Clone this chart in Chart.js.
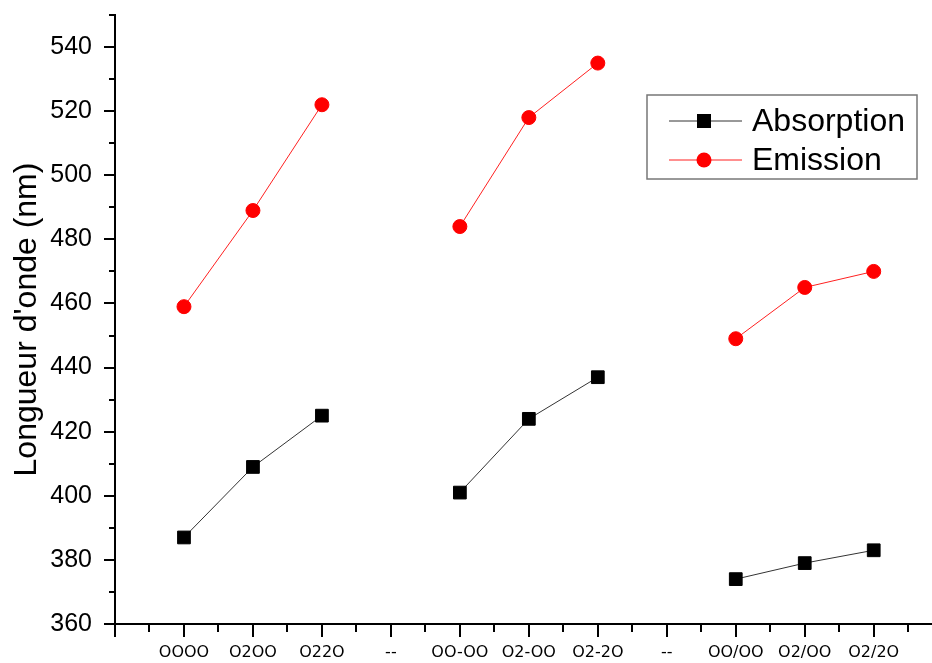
<!DOCTYPE html>
<html>
<head>
<meta charset="utf-8">
<script src="https://cdn.jsdelivr.net/npm/chart.js@4/dist/chart.umd.min.js"></script>
<style>
  html, body { margin: 0; padding: 0; background: #fff; overflow: hidden; }
  #c { display: block; }
</style>
</head>
<body>
<canvas id="c" width="932" height="663"></canvas>
<script>
// ---- data ----
const categories = ['OOOO', 'O2OO', 'O22O', '--', 'OO-OO', 'O2-OO', 'O2-2O', '--', 'OO/OO', 'O2/OO', 'O2/2O'];
const absorption = [387, 409, 425, null, 401, 424, 437, null, 374, 379, 383];
const emission   = [459, 489, 522, null, 484, 518, 535, null, 449, 465, 470];
const seriesNames = ['Absorption', 'Emission'];
const yTitle = "Longueur d'onde (nm)";

const toPoints = arr => arr.map((v, i) => ({ x: i + 1, y: v }));

const tickPlugin = {
  id: 'axisTicks',
  afterDraw(chart) {
    const ctx = chart.ctx;
    const xs = chart.scales.x, ys = chart.scales.y;
    const area = chart.chartArea;
    ctx.save();
    ctx.strokeStyle = '#000';
    ctx.lineWidth = 2;
    // extend x axis line to the canvas edge
    ctx.beginPath();
    ctx.moveTo(area.right - 1, area.bottom);
    ctx.lineTo(chart.width, area.bottom);
    ctx.stroke();
    for (let v = 360; v <= 550; v += 10) {
      const py = Math.round(ys.getPixelForValue(v));
      const len = (v % 20 === 0) ? 11 : 6;
      ctx.beginPath();
      ctx.moveTo(area.left, py);
      ctx.lineTo(area.left - len, py);
      ctx.stroke();
    }
    for (let v = 0; v <= xs.max; v += 0.5) {
      const px = Math.round(xs.getPixelForValue(v));
      const len = (v % 1 === 0) ? 13 : 8;
      ctx.beginPath();
      ctx.moveTo(px, area.bottom);
      ctx.lineTo(px, area.bottom + len);
      ctx.stroke();
    }
    ctx.restore();
  }
};

const legendPlugin = {
  id: 'boxLegend',
  afterDraw(chart) {
    const ctx = chart.ctx;
    ctx.save();
    ctx.strokeStyle = '#777';
    ctx.lineWidth = 1.5;
    ctx.fillStyle = '#fff';
    ctx.fillRect(647, 95, 270, 84);
    ctx.strokeRect(647, 95, 270, 84);
    const rows = [121, 160];
    chart.data.datasets.forEach((ds, i) => {
      const y = rows[i];
      ctx.strokeStyle = ds.borderColor;
      ctx.lineWidth = 1;
      ctx.beginPath();
      ctx.moveTo(669, y);
      ctx.lineTo(742, y);
      ctx.stroke();
      ctx.fillStyle = ds.pointBackgroundColor;
      if (ds.pointStyle === 'rect') {
        ctx.fillRect(697, y - 7, 14, 14);
      } else {
        ctx.beginPath();
        ctx.arc(704, y, 7.5, 0, Math.PI * 2);
        ctx.fill();
      }
      ctx.fillStyle = '#000';
      ctx.font = '32px "Liberation Sans", Arial, sans-serif';
      ctx.textBaseline = 'middle';
      ctx.textAlign = 'left';
      ctx.fillText(ds.label, 752, y + 1);
    });
    ctx.restore();
  }
};

new Chart(document.getElementById('c'), {
  type: 'line',
  data: {
    datasets: [
      {
        label: seriesNames[0],
        data: toPoints(absorption),
        borderColor: '#333',
        borderWidth: 1,
        pointStyle: 'rect',
        pointRadius: 9,
        pointBorderWidth: 1,
        pointBackgroundColor: '#000',
        pointBorderColor: '#000',
        spanGaps: false
      },
      {
        label: seriesNames[1],
        data: toPoints(emission),
        borderColor: '#ff2020',
        borderWidth: 1,
        pointStyle: 'circle',
        pointRadius: 7,
        pointBorderWidth: 1,
        pointBackgroundColor: '#ff0000',
        pointBorderColor: '#ff0000',
        spanGaps: false
      }
    ]
  },
  options: {
    responsive: false,
    animation: false,
    layout: { padding: { top: 15, left: 0, right: 0, bottom: 0 } },
    plugins: { legend: { display: false }, tooltip: { enabled: false } },
    scales: {
      x: {
        type: 'linear',
        min: 0,
        max: 11.7,
        afterFit(s) { s.height = 39; s.paddingLeft = 0; s.paddingRight = 0; },
        grid: { display: true, drawOnChartArea: false, drawTicks: false },
        border: { display: true, color: '#000', width: 2 },
        ticks: {
          stepSize: 1,
          includeBounds: false,
          autoSkip: false,
          maxRotation: 0,
          padding: 19,
          color: '#000',
          font: { family: '"DejaVu Sans", sans-serif', size: 16 },
          callback: v => (Number.isInteger(v) && v >= 1 && v <= categories.length) ? categories[v - 1] : ''
        }
      },
      y: {
        min: 360,
        max: 550,
        afterFit(s) { s.width = 115; s.paddingTop = 0; s.paddingBottom = 0; },
        grid: { display: true, drawOnChartArea: false, drawTicks: false },
        border: { display: true, color: '#000', width: 2 },
        ticks: {
          stepSize: 20,
          includeBounds: false,
          padding: 23,
          color: '#000',
          font: { family: '"Liberation Sans", Arial, sans-serif', size: 25 },
          callback: v => (v % 20 === 0) ? String(v) : ''
        },
        title: {
          display: true,
          text: yTitle,
          color: '#000',
          font: { family: '"Liberation Sans", Arial, sans-serif', size: 32 },
          padding: { top: 8, bottom: 0 }
        }
      }
    }
  },
  plugins: [tickPlugin, legendPlugin]
});
</script>
</body>
</html>
